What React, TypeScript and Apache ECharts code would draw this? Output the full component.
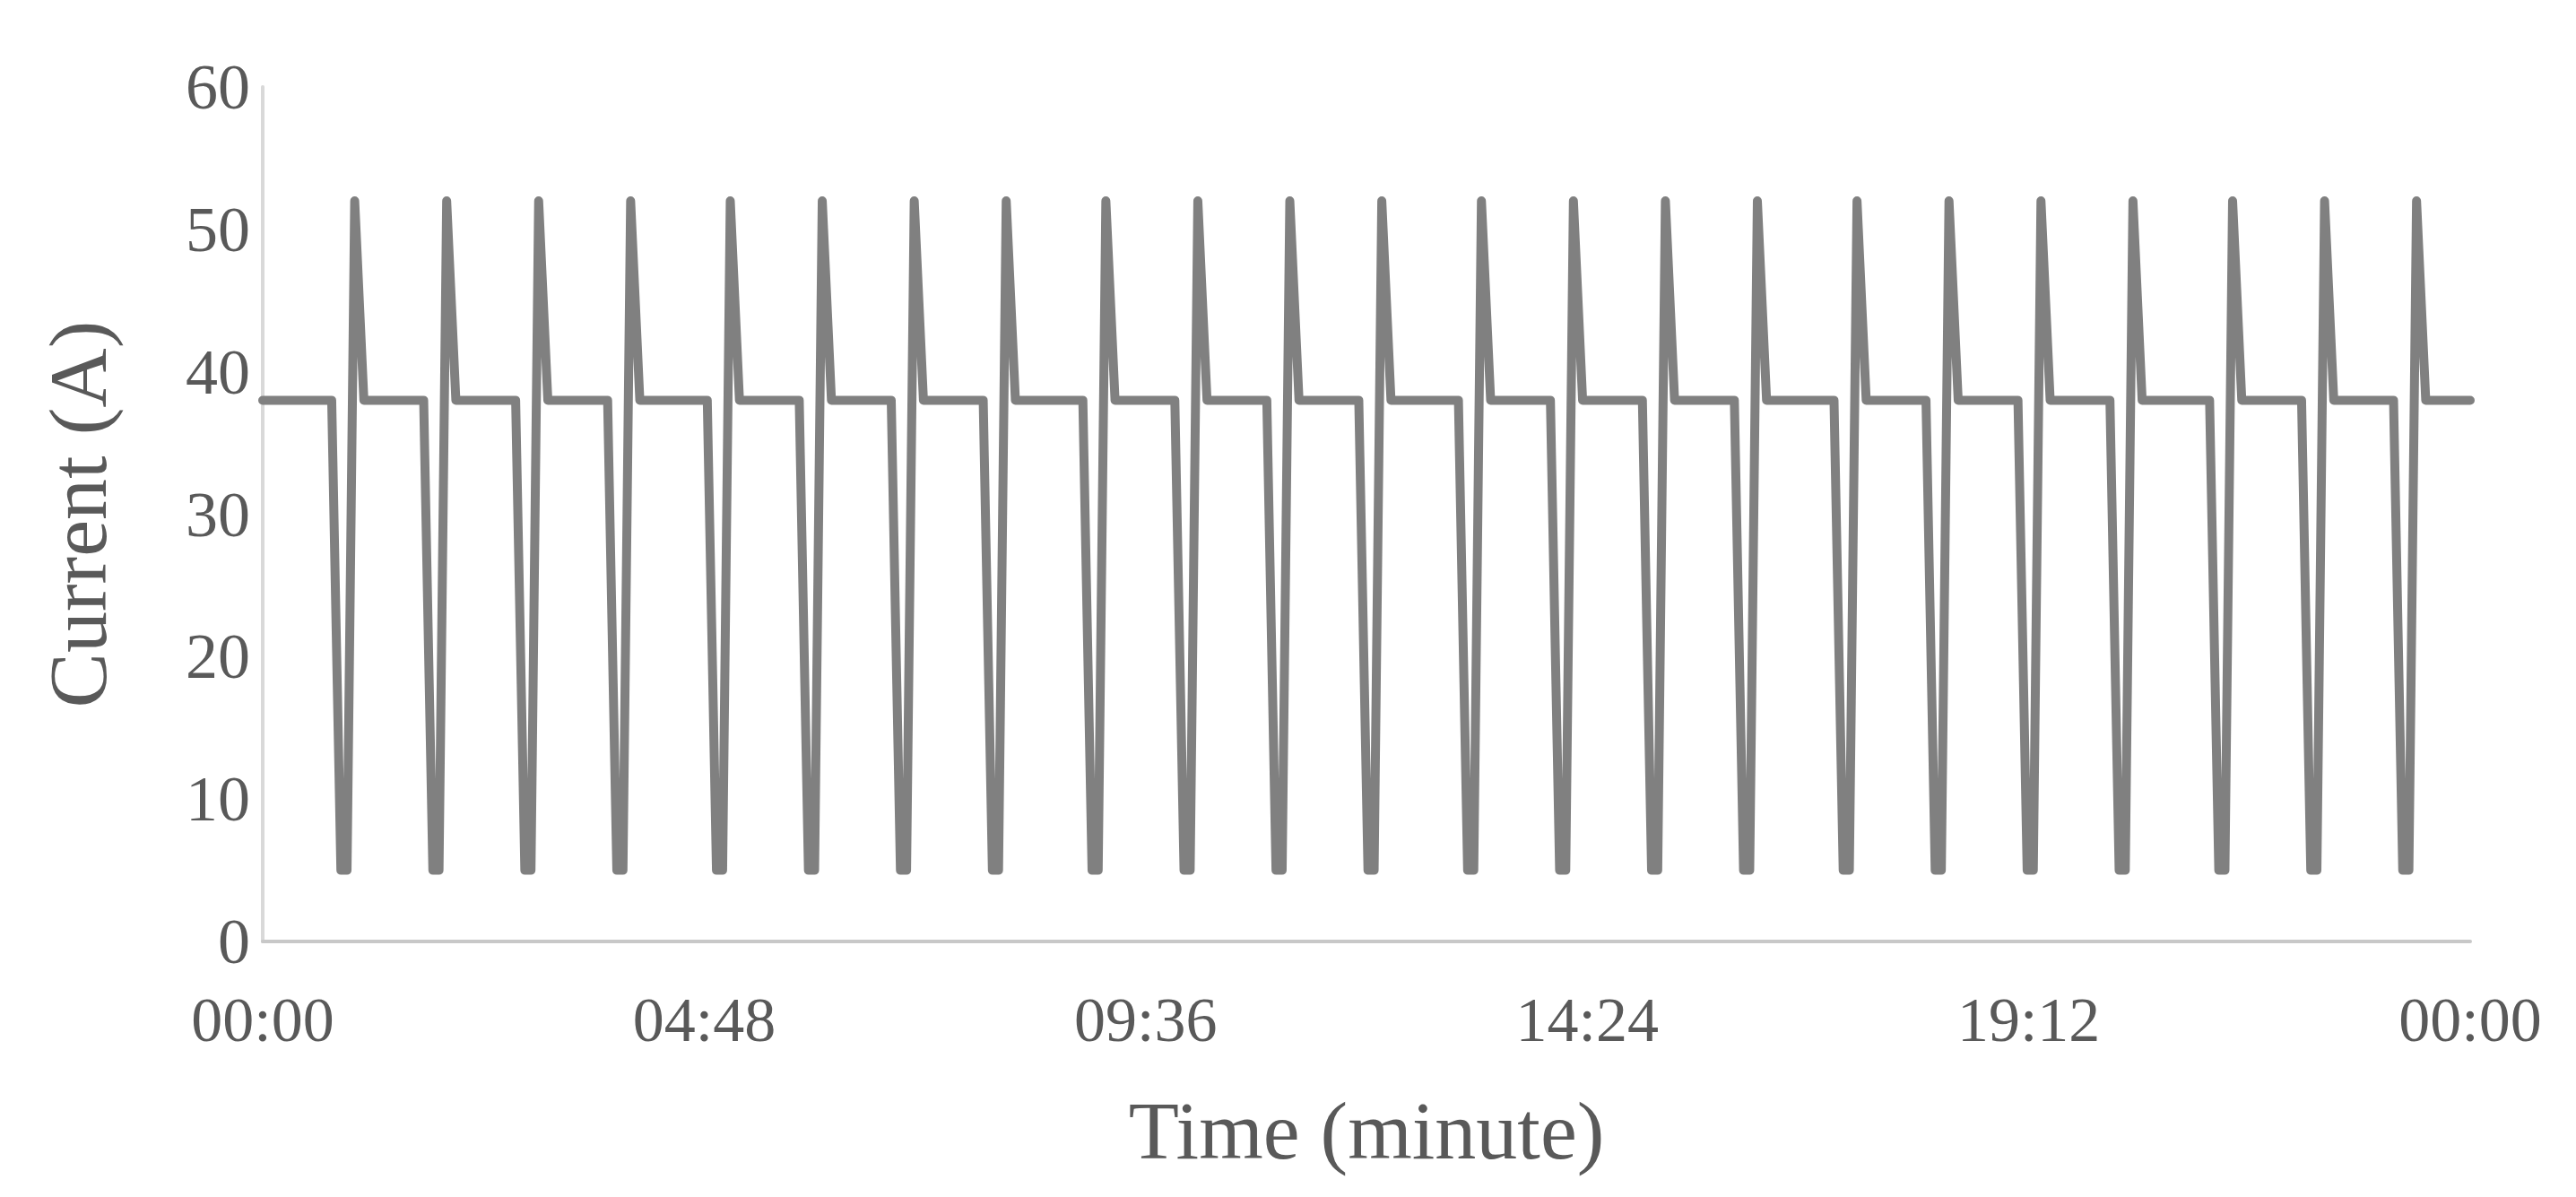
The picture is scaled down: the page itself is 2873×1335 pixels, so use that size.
import React, { useEffect, useRef } from "react";
import * as echarts from "echarts";

// Time in minutes from 00:00
const timeMinutes: number[] = [
  0,
  45, 51, 55, 60, 66,
  105, 111, 115, 120, 126,
  165, 171, 175, 180, 186,
  225, 231, 235, 240, 246,
  290, 296, 300, 305, 311,
  350, 356, 360, 365, 371,
  410, 416, 420, 425, 431,
  470, 476, 480, 485, 491,
  535, 541, 545, 550, 556,
  595, 601, 605, 610, 616,
  655, 661, 665, 670, 676,
  715, 721, 725, 730, 736,
  780, 786, 790, 795, 801,
  840, 846, 850, 855, 861,
  900, 906, 910, 915, 921,
  960, 966, 970, 975, 981,
  1025, 1031, 1035, 1040, 1046,
  1085, 1091, 1095, 1100, 1106,
  1145, 1151, 1155, 1160, 1166,
  1205, 1211, 1215, 1220, 1226,
  1270, 1276, 1280, 1285, 1291,
  1330, 1336, 1340, 1345, 1351,
  1390, 1396, 1400, 1405, 1411,
  1440,
];

// Current in A
const currentA: number[] = [
  38,
  38, 5, 5, 52, 38,
  38, 5, 5, 52, 38,
  38, 5, 5, 52, 38,
  38, 5, 5, 52, 38,
  38, 5, 5, 52, 38,
  38, 5, 5, 52, 38,
  38, 5, 5, 52, 38,
  38, 5, 5, 52, 38,
  38, 5, 5, 52, 38,
  38, 5, 5, 52, 38,
  38, 5, 5, 52, 38,
  38, 5, 5, 52, 38,
  38, 5, 5, 52, 38,
  38, 5, 5, 52, 38,
  38, 5, 5, 52, 38,
  38, 5, 5, 52, 38,
  38, 5, 5, 52, 38,
  38, 5, 5, 52, 38,
  38, 5, 5, 52, 38,
  38, 5, 5, 52, 38,
  38, 5, 5, 52, 38,
  38, 5, 5, 52, 38,
  38, 5, 5, 52, 38,
  38,
];

const xTickLabels: string[] = ["00:00", "04:48", "09:36", "14:24", "19:12", "00:00"];
const xTickStep = 288;
const xMax = 1440;
const yMax = 60;
const yStep = 10;

const FONT = "'Liberation Serif', 'Times New Roman', serif";
const TEXT_COLOR = "#595959";

export default function App() {
  const ref = useRef<HTMLDivElement>(null);

  useEffect(() => {
    if (!ref.current) return;
    const chart = echarts.init(ref.current, undefined, { renderer: "svg" });
    const data = timeMinutes.map((t, i) => [t, currentA[i]]);
    chart.setOption({
      animation: false,
      backgroundColor: "#ffffff",
      grid: { left: 293, right: 118, top: 97, bottom: 285, containLabel: false },
      xAxis: {
        type: "value",
        min: 0,
        max: xMax,
        interval: xTickStep,
        name: "Time (minute)",
        nameLocation: "middle",
        nameGap: 165,
        nameTextStyle: { fontFamily: FONT, fontSize: 92, color: TEXT_COLOR },
        axisLine: { show: true, lineStyle: { color: "#c8c8c8", width: 4 } },
        axisTick: { show: false },
        splitLine: { show: false },
        axisLabel: {
          fontFamily: FONT,
          fontSize: 70,
          color: TEXT_COLOR,
          margin: 52,
          formatter: (v: number) => xTickLabels[Math.round(v / xTickStep)] ?? "",
        },
      },
      yAxis: {
        type: "value",
        min: 0,
        max: yMax,
        interval: yStep,
        name: "Current (A)",
        nameLocation: "middle",
        nameGap: 160,
        nameTextStyle: { fontFamily: FONT, fontSize: 92, color: TEXT_COLOR },
        axisLine: { show: true, lineStyle: { color: "#d9d9d9", width: 4 } },
        axisTick: { show: false },
        splitLine: { show: false },
        axisLabel: { fontFamily: FONT, fontSize: 72, color: TEXT_COLOR, margin: 14 },
      },
      series: [
        {
          type: "line",
          data,
          showSymbol: false,
          symbol: "none",
          lineStyle: { color: "#808080", width: 10, cap: "round", join: "round" },
        },
      ],
    });
    return () => chart.dispose();
  }, []);

  return (
    <div
      ref={ref}
      style={{ position: "fixed", left: 0, top: 0, width: 2873, height: 1335 }}
    />
  );
}
